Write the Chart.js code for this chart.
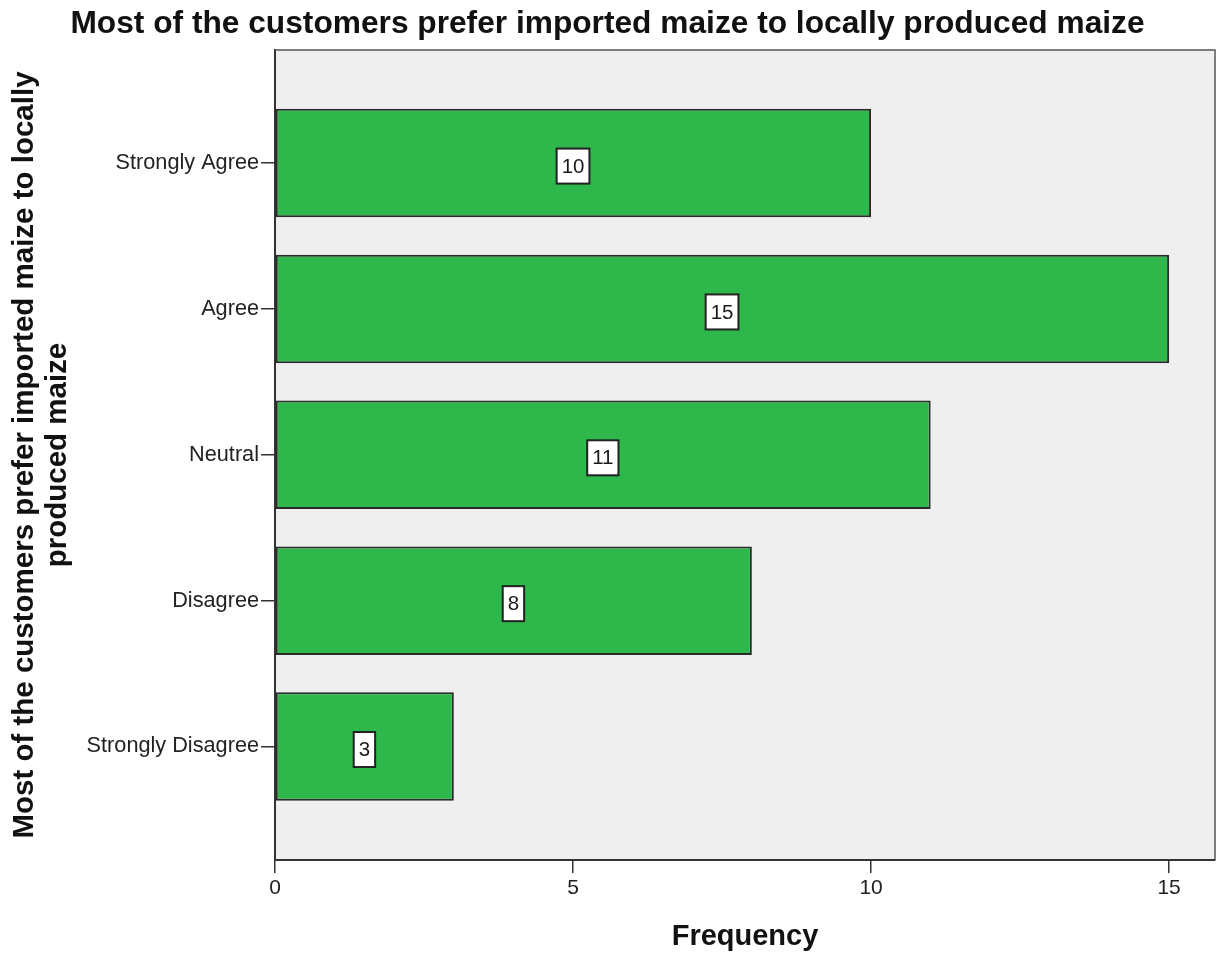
<!DOCTYPE html>
<html>
<head>
<meta charset="utf-8">
<title>Imported vs local maize preference</title>
<script src="https://cdn.jsdelivr.net/npm/chart.js@4.4.1/dist/chart.umd.min.js"></script>
<style>
  html, body { margin: 0; padding: 0; background: #ffffff; }
  #wrap { width: 1217px; height: 954px; }
</style>
</head>
<body>
<div id="wrap"><canvas id="c" width="1217" height="954"></canvas></div>
<script>
// Survey responses (frequency per answer)
const categories = ['Strongly Agree', 'Agree', 'Neutral', 'Disagree', 'Strongly Disagree'];
const frequencies = [10, 15, 11, 8, 3];
const xTickValues = [0, 5, 10, 15];
const chartTitle = 'Most of the customers prefer imported maize to locally produced maize';
const yTitleLines = ['Most of the customers prefer imported maize to locally', 'produced maize'];
const xTitleText = 'Frequency';

const FONT = "'Liberation Sans', Arial, Helvetica, sans-serif";
Chart.defaults.font.family = FONT;

// Grey plot panel behind the bars, with a frame on top and right
const panelPlugin = {
  id: 'panel',
  beforeDraw(chart) {
    const { ctx, chartArea: a } = chart;
    ctx.save();
    ctx.fillStyle = '#efefef';
    ctx.fillRect(a.left, a.top, a.right - a.left, a.bottom - a.top);
    ctx.restore();
  },
  afterDraw(chart) {
    const { ctx, chartArea: a } = chart;
    ctx.save();
    ctx.strokeStyle = '#555555';
    ctx.lineWidth = 1.5;
    ctx.beginPath();
    ctx.moveTo(a.left, a.top);
    ctx.lineTo(a.right, a.top);
    ctx.lineTo(a.right, a.bottom);
    ctx.stroke();
    ctx.restore();
  }
};

// Boxed value label in the middle of each bar
const valueBoxPlugin = {
  id: 'valueBoxes',
  afterDatasetsDraw(chart) {
    const { ctx } = chart;
    const xs = chart.scales.x;
    const meta = chart.getDatasetMeta(0);
    ctx.save();
    ctx.font = '20.5px ' + FONT;
    ctx.textAlign = 'center';
    ctx.textBaseline = 'middle';
    meta.data.forEach((bar, i) => {
      const v = frequencies[i];
      const cx = xs.getPixelForValue(v / 2);
      const cy = bar.y + 3;
      const txt = String(v);
      const w = ctx.measureText(txt).width + 10;
      const h = 35;
      ctx.fillStyle = '#ffffff';
      ctx.fillRect(cx - w / 2, cy - h / 2, w, h);
      ctx.strokeStyle = '#222222';
      ctx.lineWidth = 2;
      ctx.strokeRect(cx - w / 2, cy - h / 2, w, h);
      ctx.fillStyle = '#1a1a1a';
      ctx.fillText(txt, cx, cy + 1);
    });
    ctx.restore();
  }
};

new Chart(document.getElementById('c'), {
  type: 'bar',
  data: {
    datasets: [{
      data: frequencies.map((v, i) => ({ x: v, y: i })),
      backgroundColor: '#2eb84b',
      borderColor: '#2a2a2a',
      borderWidth: 2,
      borderSkipped: false,
      categoryPercentage: 0.744,
      barPercentage: 1
    }]
  },
  options: {
    indexAxis: 'y',
    responsive: false,
    animation: false,
    layout: { padding: { left: 0, right: 2, top: 0, bottom: 0 } },
    plugins: {
      legend: { display: false },
      tooltip: { enabled: false },
      title: {
        display: true,
        text: chartTitle,
        color: '#111111',
        font: { size: 31.7, weight: 'bold' },
        padding: { top: 5, bottom: 7 }
      }
    },
    scales: {
      x: {
        type: 'linear',
        min: 0,
        max: 15.77,
        afterBuildTicks: s => { s.ticks = xTickValues.map(v => ({ value: v })); },
        afterFit: s => { s.height = 94; },
        ticks: { color: '#222222', font: { size: 21 }, padding: 3, maxRotation: 0 },
        grid: { drawOnChartArea: false, drawTicks: true, tickLength: 13, color: '#333333', lineWidth: 1.5 },
        border: { display: true, color: '#333333', width: 2 },
        title: {
          display: true,
          text: xTitleText,
          color: '#111111',
          font: { size: 29, weight: 'bold' },
          padding: { top: 0, bottom: 0 }
        }
      },
      y: {
        type: 'linear',
        reverse: true,
        offset: false,
        min: -0.775,
        max: 4.778,
        afterBuildTicks: s => { s.ticks = categories.map((_, i) => ({ value: i })); },
        afterFit: s => { s.width = 275; },
        ticks: {
          color: '#222222',
          font: { size: 21.7 },
          padding: 2,
          autoSkip: false,
          callback: v => categories[v]
        },
        grid: { offset: false, drawOnChartArea: false, drawTicks: true, tickLength: 14, color: '#333333', lineWidth: 1.5 },
        border: { display: true, color: '#333333', width: 2 },
        title: {
          display: true,
          text: yTitleLines,
          color: '#111111',
          font: { size: 29.5, weight: 'bold', lineHeight: 1.12 },
          padding: { top: 8, bottom: 0 }
        }
      }
    }
  },
  plugins: [panelPlugin, valueBoxPlugin]
});
</script>
</body>
</html>
